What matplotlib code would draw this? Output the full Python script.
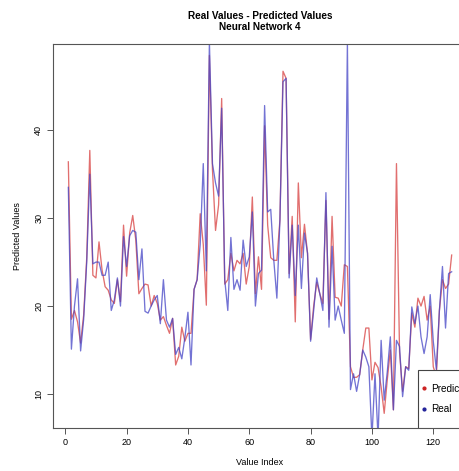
import matplotlib
matplotlib.use("Agg")
import matplotlib.pyplot as plt
from matplotlib.lines import Line2D
from matplotlib.patches import Rectangle

plt.rcParams['font.family'] = ['Liberation Sans', 'DejaVu Sans']

real = [33.5, 15.1, 20.0, 23.1, 14.9, 18.5, 25.0, 35.0, 24.8, 25.0,
        25.0, 23.5, 23.5, 25.0, 19.5, 20.7, 23.2, 20.0, 27.9, 24.5,
        28.0, 28.6, 28.4, 23.0, 26.5, 19.4, 19.2, 20.0, 20.7, 21.2,
        18.0, 23.0, 18.4, 17.6, 18.6, 14.5, 15.3, 14.0, 16.4, 19.3,
        13.3, 21.9, 23.0, 27.0, 36.2, 24.0, 50.0, 36.2, 34.0, 32.5,
        42.5, 23.0, 19.5, 27.8, 21.9, 23.0, 21.8, 27.5, 24.5, 25.6,
        30.7, 20.0, 23.7, 24.1, 42.8, 30.7, 31.0, 25.2, 20.9, 29.8,
        45.5, 45.9, 23.2, 29.2, 21.2, 29.2, 22.0, 28.3, 26.0, 16.0,
        19.5, 23.2, 21.4, 19.5, 32.9, 17.6, 26.8, 18.4, 20.0, 18.4,
        16.9, 50.0, 10.5, 12.3, 10.3, 12.2, 15.0, 14.2, 13.1, 5.0,
        12.3, 5.0, 16.1, 9.3, 12.5, 16.5, 8.2, 16.1, 15.4, 9.7,
        13.1, 12.7, 19.9, 18.0, 20.0, 16.5, 14.6, 16.5, 21.3, 16.0,
        12.8, 19.5, 24.5, 17.5, 23.7, 23.9]

predicted = [36.4, 18.5, 19.5, 18.2, 15.8, 19.0, 25.5, 37.7, 23.5, 23.2,
             27.3, 24.1, 22.2, 21.8, 20.7, 20.3, 23.0, 20.5, 29.2, 23.4,
             28.3, 30.3, 27.5, 21.4, 22.0, 22.5, 22.4, 20.0, 21.2, 20.3,
             18.4, 18.8, 17.8, 16.9, 18.6, 13.3, 14.3, 17.6, 16.0, 16.9,
             16.9, 21.9, 23.0, 30.5, 27.0, 20.1, 48.5, 35.5, 28.6, 31.5,
             43.6, 22.5, 23.0, 26.0, 24.0, 25.2, 24.8, 26.0, 22.5, 24.5,
             32.4, 21.4, 25.6, 21.9, 40.5, 29.2, 25.5, 25.2, 25.2, 29.8,
             46.7, 45.9, 23.7, 30.2, 18.2, 34.0, 25.5, 29.3, 26.0, 16.2,
             20.0, 22.7, 21.4, 20.3, 32.0, 18.5, 30.2, 21.0, 20.9, 20.0,
             24.7, 24.5, 13.1, 11.9, 11.9, 12.2, 15.0, 17.5, 17.5, 11.6,
             13.6, 13.0, 10.8, 7.8, 11.6, 15.0, 8.2, 36.2, 14.8, 10.3,
             13.1, 12.9, 19.2, 17.6, 20.9, 20.0, 21.1, 18.4, 20.0, 13.1,
             12.0, 19.5, 23.0, 22.0, 22.5, 25.8]

index = list(range(1, len(real) + 1))
x_ticks = [0, 20, 40, 60, 80, 100, 120]
y_ticks = [10, 20, 30, 40]

W, H = 460, 471
ax_l, ax_r, ax_t, ax_b = 53, 467, 44, 428.3
fig = plt.figure(figsize=(W / 100, H / 100), dpi=100)
ax = fig.add_axes([ax_l / W, 1 - ax_b / H, (ax_r - ax_l) / W, (ax_b - ax_t) / H])

red = '#dc5656'
blue = '#4444c6'
ax.plot(index, predicted, color=red, lw=0.95, alpha=0.85)
ax.plot(index, real, color=blue, lw=0.95, alpha=0.75)

ax.set_xlim(-4, 131)
ax.set_ylim(6.1, 49.8)
ax.set_xticks(x_ticks)
ax.set_yticks(y_ticks)
ax.set_xticklabels([str(t) for t in x_ticks], fontsize=6.5)
ax.set_yticklabels([str(t) for t in y_ticks], fontsize=6.5, rotation=90, va='center')
ax.tick_params(direction='out', length=4, width=0.7, color='#555555', pad=3)
for s in ax.spines.values():
    s.set_linewidth(0.8)
    s.set_color('#555555')

ax.set_xlabel('Value Index', fontsize=6.5, labelpad=8)
ax.set_ylabel('Predicted Values', fontsize=6.5, labelpad=9)

fig.text(260 / W, 1 - 16 / H, 'Real Values - Predicted Values', ha='center', va='center',
         fontsize=7.2, fontweight='bold')
fig.text(260 / W, 1 - 27 / H, 'Neural Network 4', ha='center', va='center',
         fontsize=7.2, fontweight='bold')

# legend box (R style, bottom right)
aw, ah = ax_r - ax_l, ax_b - ax_t
box = Rectangle(((418 - ax_l) / aw, 0), 1.0, (ax_b - 370) / ah, transform=ax.transAxes,
                facecolor='white', edgecolor='#444444', linewidth=0.8, zorder=4)
ax.add_patch(box)
handles = [Line2D([], [], marker='o', ls='none', color='#cc2222', markersize=2),
           Line2D([], [], marker='o', ls='none', color='#22229a', markersize=2)]
leg = ax.legend(handles, ['Predicted', 'Real'], loc='upper left',
                bbox_to_anchor=((421 - ax_l) / aw, (ax_b - 383.5) / ah), fontsize=7.2,
                frameon=False, borderpad=0, labelspacing=1.1, handlelength=0.55,
                handletextpad=0.5, borderaxespad=0)
leg.set_zorder(5)

fig.savefig('out.png', dpi=100)
